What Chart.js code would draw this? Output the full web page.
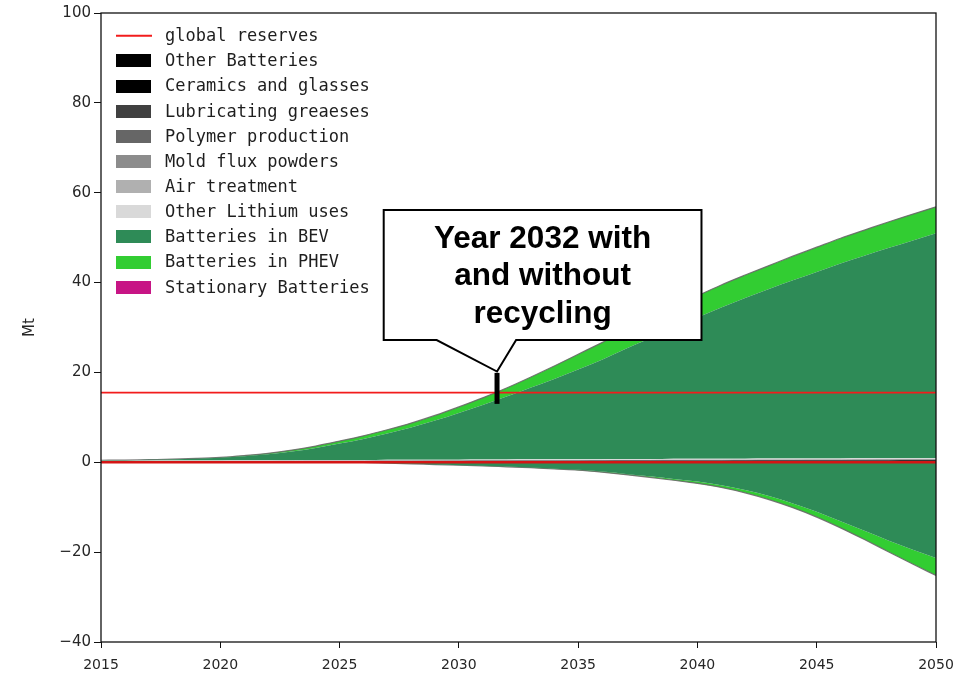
<!DOCTYPE html>
<html>
<head>
<meta charset="utf-8">
<script src="https://cdn.jsdelivr.net/npm/chart.js@4"></script>
<style>
  html, body { margin: 0; padding: 0; background: #ffffff; }
  canvas { display: block; }
</style>
</head>
<body>
<canvas id="chart" width="959" height="682"></canvas>
<script>
// Lithium demand by use (Mt), 2015-2050; positive stack = without recycling,
// negative stack = batteries with recycling
const years = [2015, 2016, 2017, 2018, 2019, 2020, 2021, 2022, 2023, 2024, 2025, 2026,
               2027, 2028, 2029, 2030, 2031, 2032, 2033, 2034, 2035, 2036, 2037, 2038,
               2039, 2040, 2041, 2042, 2043, 2044, 2045, 2046, 2047, 2048, 2049, 2050];

const otherBatteries = [0.05,0.05,0.05,0.06,0.06,0.06,0.07,0.07,0.07,0.08,0.08,0.08,
                        0.09,0.09,0.09,0.10,0.10,0.10,0.11,0.11,0.11,0.12,0.12,0.12,
                        0.13,0.13,0.13,0.14,0.14,0.14,0.15,0.15,0.15,0.16,0.16,0.16];
const ceramicsGlasses = [0.10,0.10,0.11,0.11,0.12,0.12,0.13,0.13,0.14,0.14,0.15,0.15,
                         0.16,0.16,0.17,0.17,0.18,0.18,0.19,0.19,0.20,0.20,0.21,0.21,
                         0.22,0.22,0.23,0.23,0.24,0.24,0.25,0.25,0.26,0.26,0.27,0.27];
const lubricatingGreases = [0.05,0.05,0.05,0.05,0.06,0.06,0.06,0.06,0.07,0.07,0.07,0.07,
                            0.08,0.08,0.08,0.08,0.09,0.09,0.09,0.09,0.10,0.10,0.10,0.10,
                            0.11,0.11,0.11,0.11,0.12,0.12,0.12,0.12,0.13,0.13,0.13,0.13];
const polymerProduction = [0.02,0.02,0.02,0.02,0.02,0.02,0.03,0.03,0.03,0.03,0.03,0.03,
                           0.03,0.03,0.03,0.03,0.04,0.04,0.04,0.04,0.04,0.04,0.04,0.04,
                           0.04,0.04,0.05,0.05,0.05,0.05,0.05,0.05,0.05,0.05,0.05,0.05];
const moldFluxPowders = [0.02,0.02,0.02,0.02,0.02,0.02,0.02,0.02,0.02,0.02,0.02,0.02,
                         0.03,0.03,0.03,0.03,0.03,0.03,0.03,0.03,0.03,0.03,0.03,0.03,
                         0.04,0.04,0.04,0.04,0.04,0.04,0.04,0.04,0.04,0.04,0.04,0.04];
const airTreatment = [0.01,0.01,0.01,0.01,0.01,0.01,0.01,0.01,0.01,0.01,0.01,0.01,
                      0.02,0.02,0.02,0.02,0.02,0.02,0.02,0.02,0.02,0.02,0.02,0.02,
                      0.03,0.03,0.03,0.03,0.03,0.03,0.03,0.03,0.03,0.03,0.03,0.03];
const otherLithiumUses = [0.10,0.10,0.11,0.11,0.12,0.12,0.12,0.13,0.13,0.14,0.14,0.14,
                          0.15,0.15,0.16,0.16,0.16,0.17,0.17,0.18,0.18,0.18,0.19,0.19,
                          0.20,0.20,0.20,0.21,0.21,0.22,0.22,0.22,0.23,0.23,0.24,0.24];
const batteriesBEV = [0.09,0.12,0.19,0.26,0.37,0.58,0.91,1.33,1.92,2.69,3.66,4.71,
                      5.86,7.18,8.70,10.39,12.12,14.01,15.94,17.88,19.96,22.15,24.54,26.82,
                      29.16,31.44,33.68,35.76,37.75,39.69,41.52,43.41,45.09,46.78,48.41,50.05];
const batteriesPHEV = [0.01,0.02,0.03,0.05,0.07,0.10,0.15,0.22,0.32,0.43,0.55,0.68,
                       0.82,0.98,1.15,1.35,1.60,1.90,2.35,2.90,3.40,3.80,4.10,4.40,
                       4.65,4.85,5.00,5.10,5.20,5.35,5.50,5.60,5.70,5.80,5.85,5.90];
const stationaryBatteries = [0,0,0,0,0,0,0,0,0,0,0,0,
                             0,0,0,0,0,0,0,0,0,0,0,0,
                             0,0,0,0,0,0,0,0,0,0,0,0];
// with recycling (drawn below zero)
const recycledBEV = [0,0,0,0,0,0,0,0,0,0,0,0,
                     -0.20,-0.35,-0.50,-0.65,-0.78,-0.96,-1.14,-1.42,-1.65,-2.07,-2.58,-3.13,
                     -3.70,-4.30,-5.10,-6.15,-7.50,-9.15,-11.00,-13.10,-15.25,-17.40,-19.40,-21.30];
const recycledPHEV = [0,0,0,0,0,0,0,0,0,0,0,0,
                      0,0,0,0,-0.02,-0.04,-0.06,-0.08,-0.10,-0.13,-0.17,-0.22,
                      -0.30,-0.40,-0.50,-0.65,-0.80,-0.95,-1.20,-1.50,-1.95,-2.50,-3.20,-3.90];

const globalReserves = 15.5;

const yTicks = [-40, -20, 0, 20, 40, 60, 80, 100];
const xTicks = [2015, 2020, 2025, 2030, 2035, 2040, 2045, 2050];

// callout box and the 2032 marker, in data units
const callout = {
  left: 2026.85, right: 2040.17, top: 56.15, bottom: 27.2,
  baseLeft: 2029.07, baseRight: 2032.4, tipX: 2031.6, tipY: 20.2,
  lines: ['Year 2032 with', 'and without', 'recycling']
};
const marker2032 = { x: 2031.6, low: 13.0, high: 19.9 };

const pts = arr => arr.map((v, i) => ({ x: years[i], y: v }));

function area(label, values, color, extra) {
  return Object.assign({
    label,
    data: pts(values),
    backgroundColor: color,
    borderColor: 'rgba(0,0,0,0)',
    borderWidth: 0,
    pointRadius: 0,
    pointHoverRadius: 0,
    fill: '-1',
    stack: 'demand',
    cubicInterpolationMode: 'monotone',
    inLegend: true
  }, extra || {});
}

const edgeGray = 'rgba(105,105,105,0.9)';

const datasets = [
  {
    label: 'global reserves',
    data: [{ x: 2015, y: globalReserves }, { x: 2050, y: globalReserves }],
    borderColor: '#f21c1c', borderWidth: 1.6, backgroundColor: '#f21c1c',
    pointRadius: 0, fill: false, stack: 'reserves', inLegend: true, kind: 'line'
  },
  {
    label: 'zero',
    data: [{ x: 2015, y: 0 }, { x: 2050, y: 0 }],
    borderColor: '#d41414', borderWidth: 2.4, pointRadius: 0, fill: false,
    stack: 'zero', inLegend: false
  },
  area('Other Batteries', otherBatteries, '#000000', { fill: 'origin' }),
  area('Ceramics and glasses', ceramicsGlasses, '#000000'),
  area('Lubricating greaeses', lubricatingGreases, '#404040'),
  area('Polymer production', polymerProduction, '#666666'),
  area('Mold flux powders', moldFluxPowders, '#8c8c8c'),
  area('Air treatment', airTreatment, '#b0b0b0'),
  area('Other Lithium uses', otherLithiumUses, '#d9d9d9'),
  area('Batteries in BEV', batteriesBEV, '#2e8b57'),
  area('Batteries in PHEV', batteriesPHEV, '#32cd32', { borderColor: edgeGray, borderWidth: 1.2 }),
  area('Stationary Batteries', stationaryBatteries, '#c71585'),
  area('Batteries in BEV', recycledBEV, '#2e8b57', { fill: 'origin', stack: 'recycled', inLegend: false }),
  area('Batteries in PHEV', recycledPHEV, '#32cd32', { stack: 'recycled', inLegend: false, borderColor: edgeGray, borderWidth: 1.2 })
];

const overlays = {
  id: 'overlays',
  afterDatasetsDraw(chart) {
    const { ctx, chartArea: a } = chart;
    ctx.save();
    ctx.strokeStyle = '#111111';
    ctx.lineWidth = 1.3;
    ctx.strokeRect(a.left, a.top, a.right - a.left, a.bottom - a.top);
    ctx.restore();
  },
  afterDraw(chart) {
    const { ctx, chartArea: a, scales: { x, y } } = chart;
    ctx.save();

    // legend
    const rowH = 25.15;
    let rowY = a.top + 22.7;
    ctx.font = '17px "DejaVu Sans Mono"';
    ctx.textBaseline = 'middle';
    chart.data.datasets.filter(d => d.inLegend).forEach(d => {
      const sx = a.left + 15;
      if (d.kind === 'line') {
        ctx.strokeStyle = d.borderColor;
        ctx.lineWidth = 2;
        ctx.beginPath();
        ctx.moveTo(sx, rowY);
        ctx.lineTo(sx + 36, rowY);
        ctx.stroke();
      } else {
        ctx.fillStyle = d.backgroundColor;
        ctx.fillRect(sx, Math.round(rowY - 6.5), 35, 13);
      }
      ctx.fillStyle = '#1e1e1e';
      ctx.fillText(d.label, a.left + 64, rowY + 1);
      rowY += rowH;
    });

    // callout bubble
    const L = x.getPixelForValue(callout.left), R = x.getPixelForValue(callout.right);
    const T = y.getPixelForValue(callout.top), B = y.getPixelForValue(callout.bottom);
    const bl = x.getPixelForValue(callout.baseLeft), br = x.getPixelForValue(callout.baseRight);
    const tx = x.getPixelForValue(callout.tipX), ty = y.getPixelForValue(callout.tipY);
    ctx.beginPath();
    ctx.moveTo(L, T);
    ctx.lineTo(R, T);
    ctx.lineTo(R, B);
    ctx.lineTo(br, B);
    ctx.lineTo(tx, ty);
    ctx.lineTo(bl, B);
    ctx.lineTo(L, B);
    ctx.closePath();
    ctx.fillStyle = '#ffffff';
    ctx.fill();
    ctx.strokeStyle = '#000000';
    ctx.lineWidth = 2;
    ctx.lineJoin = 'miter';
    ctx.stroke();

    ctx.fillStyle = '#000000';
    ctx.font = 'bold 31.5px "Liberation Sans", Arial, sans-serif';
    ctx.textAlign = 'center';
    ctx.textBaseline = 'middle';
    const cx = (L + R) / 2;
    callout.lines.forEach((t, i) => ctx.fillText(t, cx, T + 29 + i * 37.5));

    // 2032 marker
    const mx = x.getPixelForValue(marker2032.x);
    const m1 = y.getPixelForValue(marker2032.high), m2 = y.getPixelForValue(marker2032.low);
    ctx.fillStyle = '#000000';
    ctx.fillRect(mx - 2.5, m1, 5, m2 - m1);
    ctx.restore();
  }
};

new Chart(document.getElementById('chart'), {
  type: 'line',
  data: { datasets },
  options: {
    responsive: false,
    devicePixelRatio: 1,
    animation: false,
    events: [],
    layout: { padding: { top: 13, right: 23, left: 0, bottom: 0 } },
    plugins: { legend: { display: false }, tooltip: { enabled: false } },
    scales: {
      x: {
        type: 'linear', min: 2015, max: 2050,
        afterFit: s => { s.height = 40; s.paddingLeft = 0; s.paddingRight = 0; },
        afterBuildTicks: s => { s.ticks = xTicks.map(v => ({ value: v })); },
        border: { display: false },
        grid: { display: true, drawOnChartArea: false, drawTicks: true, tickLength: 6, color: '#111111' },
        ticks: {
          padding: 9, color: '#262626', maxRotation: 0,
          font: { family: 'DejaVu Sans', size: 14 },
          callback: v => String(v)
        }
      },
      y: {
        stacked: true, min: -40, max: 100,
        afterFit: s => { s.width = 101; s.paddingTop = 0; s.paddingBottom = 0; },
        afterBuildTicks: s => { s.ticks = yTicks.map(v => ({ value: v })); },
        border: { display: false },
        grid: { display: true, drawOnChartArea: false, drawTicks: true, tickLength: 7, color: '#111111' },
        title: { display: true, text: 'Mt', color: '#262626', font: { family: 'DejaVu Sans', size: 15 }, padding: { top: 21, bottom: 0 } },
        ticks: {
          padding: 3, color: '#262626',
          font: { family: 'DejaVu Sans', size: 15 },
          callback: v => (v < 0 ? '\u2212' + Math.abs(v) : String(v))
        }
      }
    }
  },
  plugins: [overlays]
});
</script>
</body>
</html>
